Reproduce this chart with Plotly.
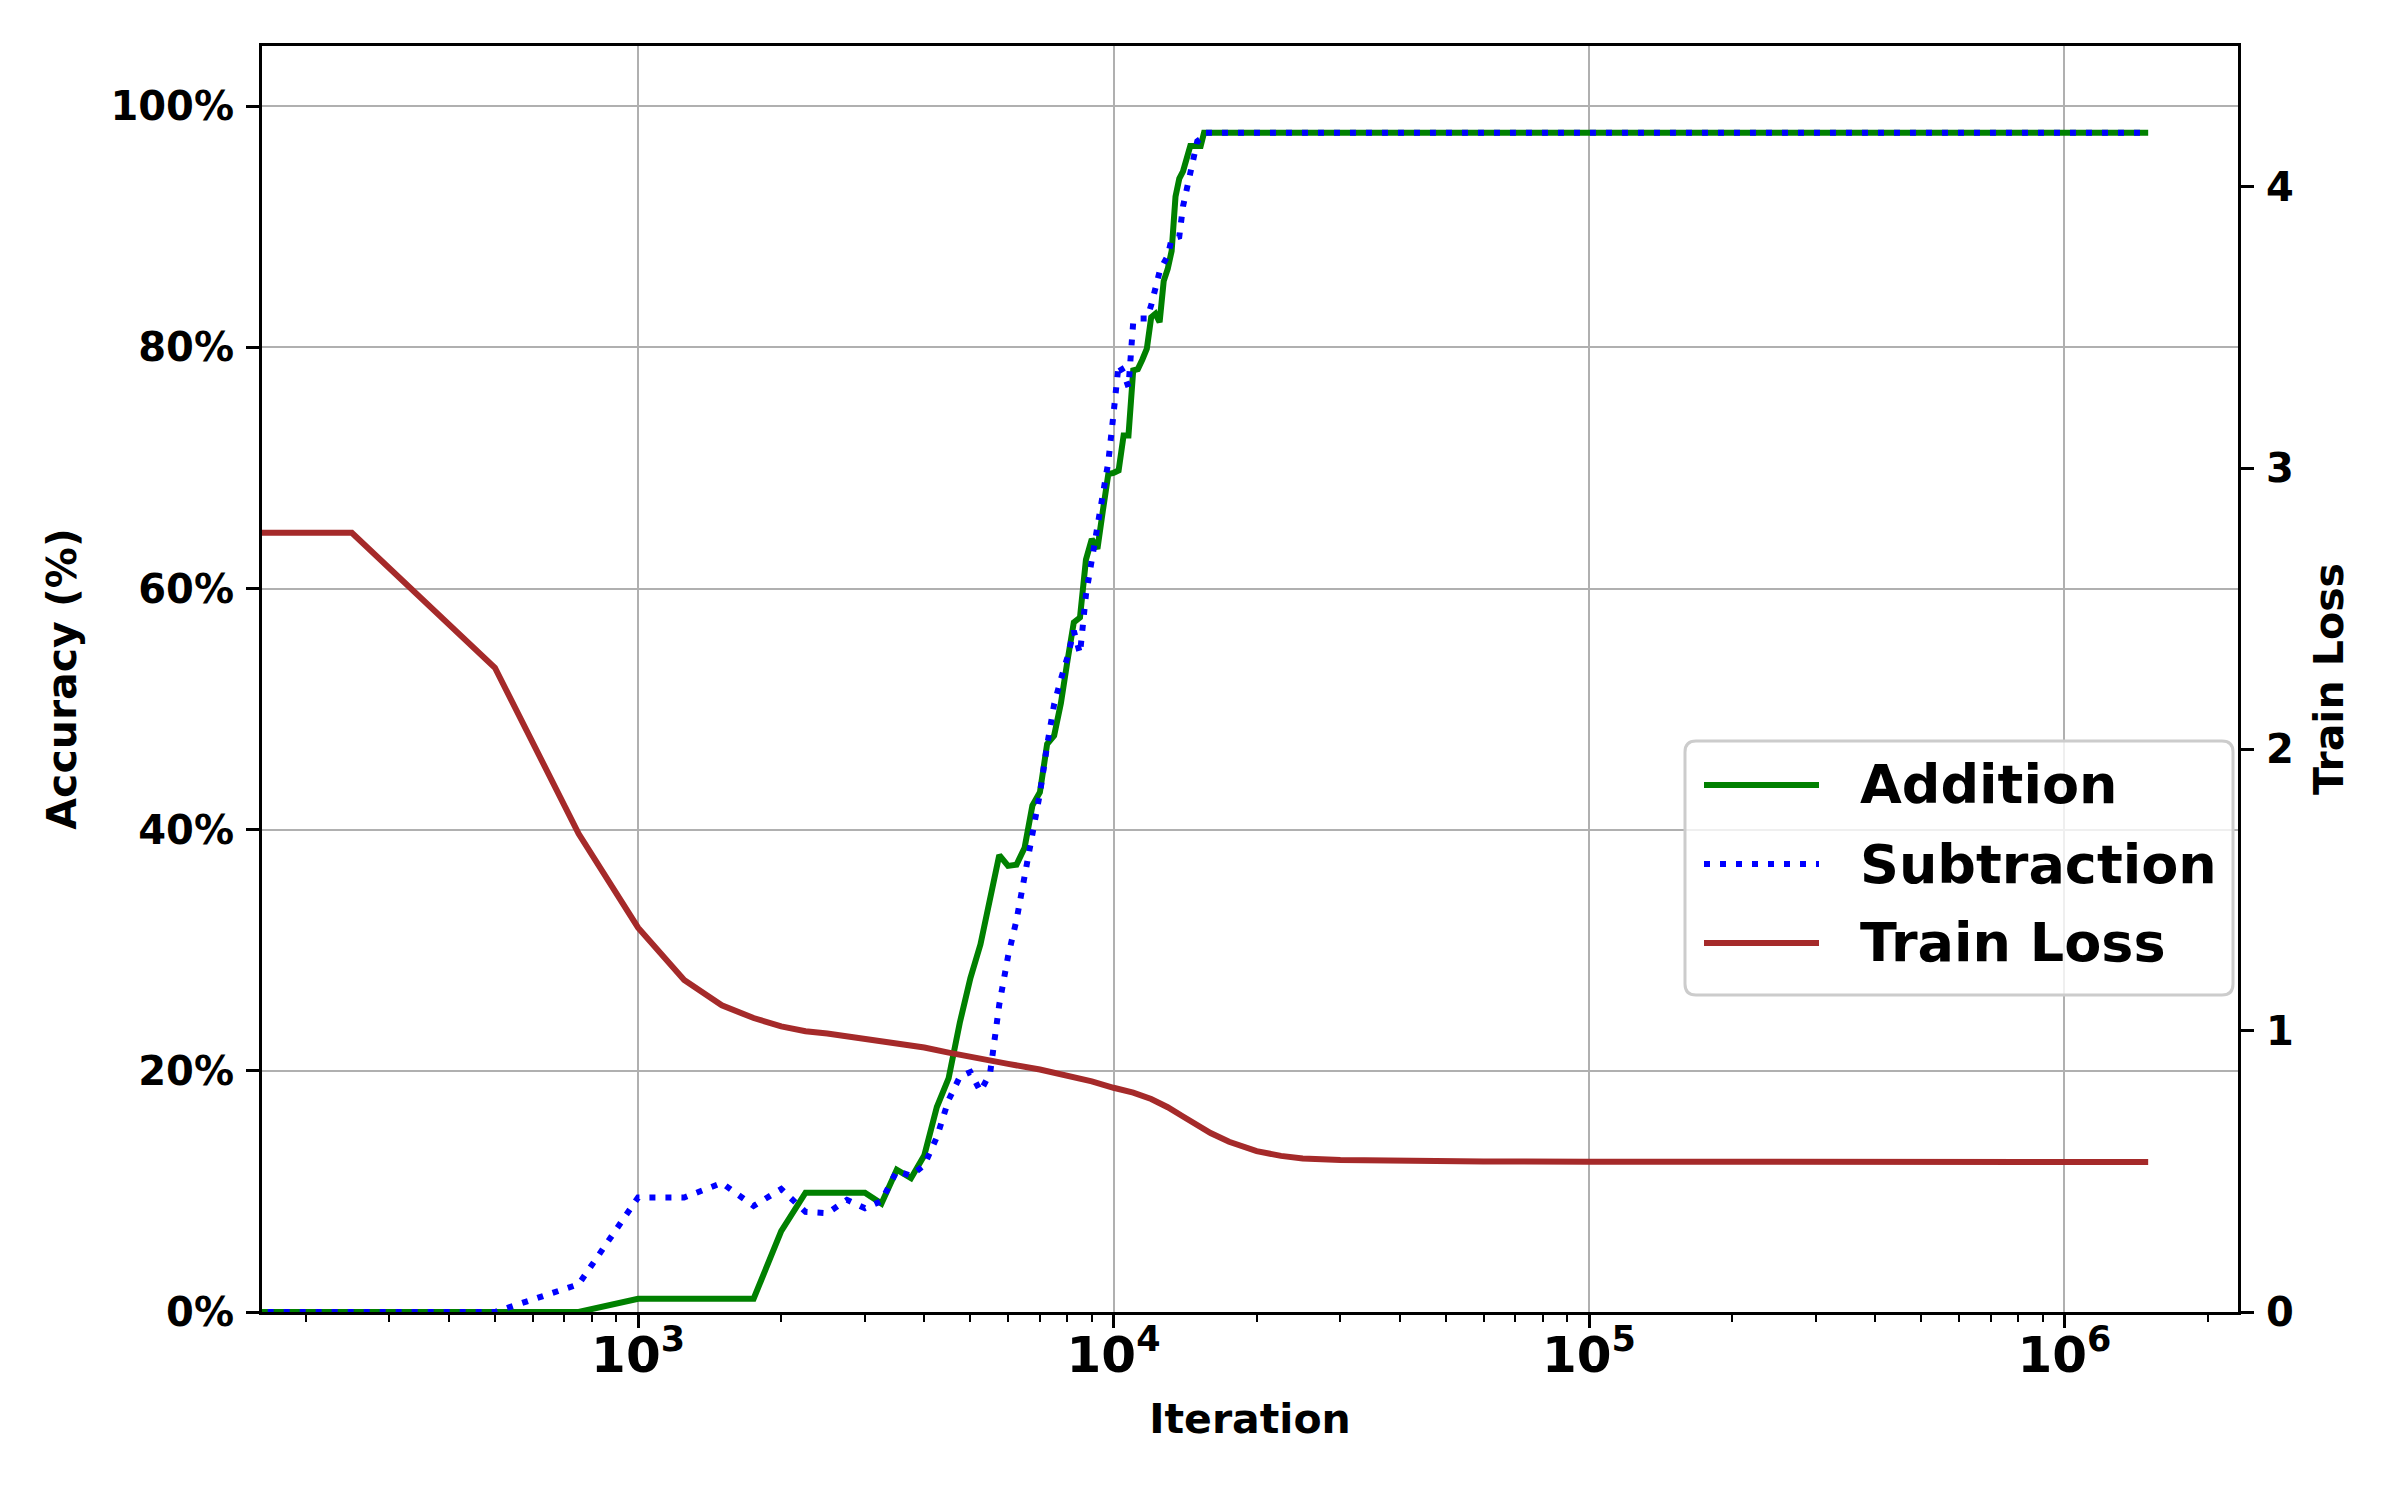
import numpy as np
import plotly.graph_objects as go

# ---------------- data ----------------
acc_iters = [0, 250, 500, 750, 1000, 1250, 1500, 1750, 2000, 2250,
             2500, 2750, 3000, 3250, 3500, 3750, 4000, 4250, 4500, 4750,
             5000, 5250, 5500, 5750, 6000, 6250, 6500, 6750, 7000, 7250,
             7500, 7750, 8000, 8250, 8500, 8750, 9000, 9250, 9500, 9750,
             10000, 10250, 10500, 10750, 11000, 11250, 11500, 11750, 12000, 12250,
             12500, 12750, 13000, 13250, 13500, 13750, 14000, 14250, 14500, 14750,
             15000, 15250, 15500, 15750, 16000,
             20000, 50000, 100000, 200000, 500000, 1000000, 1500000]

addition_acc = [0, 0, 0, 0, 1.1, 1.1, 1.1, 1.1, 6.7, 9.9,
                9.9, 9.9, 9.9, 9.0, 11.8, 11.1, 13.0, 17.0, 19.4, 24.0,
                27.7, 30.5, 34.2, 37.9, 37.0, 37.1, 38.5, 42.0, 43.1, 47.1,
                47.8, 50.5, 54.0, 57.2, 57.6, 62.4, 64.1, 63.3, 66.5, 69.5,
                69.6, 69.8, 72.7, 72.7, 78.1, 78.2, 79.0, 79.9, 82.5, 82.8,
                82.1, 85.5, 86.5, 88.0, 92.5, 94.0, 94.6, 95.5, 96.7, 96.7,
                96.7, 96.7, 97.8, 97.8, 97.8,
                97.8, 97.8, 97.8, 97.8, 97.8, 97.8, 97.8]

subtraction_acc = [0, 0, 0, 2.3, 9.5, 9.5, 10.7, 8.8, 10.2, 8.3,
                   8.2, 9.3, 8.6, 9.2, 11.7, 11.3, 12.2, 14.5, 17.6, 19.5,
                   19.9, 18.3, 19.8, 25.5, 29.5, 32.5, 36.0, 39.8, 43.0, 47.0,
                   50.4, 52.5, 54.3, 56.5, 54.6, 59.5, 62.5, 65.0, 67.5, 70.5,
                   74.5, 78.6, 77.9, 76.7, 82.1, 82.4, 82.4, 82.4, 83.5, 85.0,
                   86.3, 87.0, 87.6, 89.0, 89.1, 89.2, 91.7, 93.0, 94.3, 95.7,
                   97.1, 97.3, 97.8, 97.8, 97.8,
                   97.8, 97.8, 97.8, 97.8, 97.8, 97.8, 97.8]

loss_iters = [0, 250, 500, 750, 1000, 1250, 1500, 1750, 2000, 2250,
              2500, 3000, 3500, 4000, 4500, 5000, 5500, 6000, 7000, 8000,
              9000, 10000, 11000, 12000, 13000, 14000, 15000, 16000, 17500, 20000,
              22500, 25000, 30000, 40000, 60000, 100000, 200000, 500000, 1000000, 1500000]

train_loss = [2.77, 2.77, 2.29, 1.70, 1.366, 1.18, 1.09, 1.045, 1.015, 0.998,
              0.99, 0.972, 0.957, 0.94, 0.922, 0.906, 0.893, 0.882, 0.862, 0.84,
              0.82, 0.797, 0.78, 0.757, 0.728, 0.695, 0.663, 0.636, 0.605, 0.572,
              0.555, 0.546, 0.540, 0.536, 0.535, 0.534, 0.533, 0.533, 0.533, 0.533]

acc_ticks = [0, 20, 40, 60, 80, 100]
acc_tick_labels = ["0%", "20%", "40%", "60%", "80%", "100%"]
loss_ticks = [0, 1, 2, 3, 4]

series_names = ["Addition", "Subtraction", "Train Loss"]

# ---------------- styling ----------------
FONT = "DejaVu Sans"
GREEN, BLUE, BROWN = "green", "blue", "brown"
LW = 6
DOT = "6px,10px"
GRID = "#b0b0b0"

W, H = 2400, 1500
L, R, T, B = 262, 162, 46, 188
PW, PH = W - L - R, H - T - B


def px_x(px):
    return (px - L) / PW


def px_y(py):
    return (H - B - py) / PH


# log axis: step 0 cannot be shown, clip it like matplotlib does
x_acc = np.clip(np.array(acc_iters, dtype=float), 1, None)
x_loss = np.clip(np.array(loss_iters, dtype=float), 1, None)

pos = np.array([v for v in acc_iters + loss_iters if v > 0], dtype=float)
lo, hi = np.log10(pos.min()), np.log10(pos.max())
pad = 0.05 * (hi - lo)
x_range = [lo - pad, hi + pad]

fig = go.Figure()
fig.add_trace(go.Scatter(x=x_acc, y=addition_acc, mode="lines", name=series_names[0],
                         line=dict(color=GREEN, width=LW), showlegend=False))
fig.add_trace(go.Scatter(x=x_acc, y=subtraction_acc, mode="lines", name=series_names[1],
                         line=dict(color=BLUE, width=LW, dash=DOT), showlegend=False))
fig.add_trace(go.Scatter(x=x_loss, y=train_loss, mode="lines", name=series_names[2],
                         yaxis="y2", line=dict(color=BROWN, width=LW), showlegend=False))

tickfont = dict(family=FONT, size=40, color="black", weight="bold")
titlefont = dict(family=FONT, size=41, color="black", weight="bold")

fig.update_layout(
    template="none",
    width=W, height=H,
    margin=dict(l=L, r=R, t=T, b=B, autoexpand=False),
    paper_bgcolor="white", plot_bgcolor="white",
    showlegend=False,
    xaxis=dict(
        type="log", range=x_range, dtick=1, exponentformat="power",
        showgrid=True, gridcolor=GRID, gridwidth=2.2, zeroline=False,
        showline=True, linecolor="black", linewidth=3, mirror=True,
        ticks="outside", ticklen=13, tickwidth=3, tickcolor="black",
        minor=dict(ticks="outside", ticklen=7, tickwidth=2, tickcolor="black",
                   dtick="D1", showgrid=False),
        tickfont=tickfont, ticklabelstandoff=-14,
        title=dict(text="Iteration", font=titlefont, standoff=22),
        automargin=False,
    ),
    yaxis=dict(
        range=[0, 105], tickvals=acc_ticks, ticktext=acc_tick_labels,
        showgrid=True, gridcolor=GRID, gridwidth=2.2, zeroline=False,
        showline=True, linecolor="black", linewidth=3, mirror=True,
        ticks="outside", ticklen=13, tickwidth=3, tickcolor="black",
        tickfont=tickfont, ticklabelstandoff=4,
        title=dict(text="Accuracy (%)", font=titlefont, standoff=22),
        automargin=False,
    ),
    yaxis2=dict(
        overlaying="y", side="right", range=[0, 4.5], tickvals=loss_ticks,
        showgrid=False, zeroline=False,
        showline=True, linecolor="black", linewidth=3,
        ticks="outside", ticklen=13, tickwidth=3, tickcolor="black",
        tickfont=tickfont, ticklabelstandoff=4,
        title=dict(text="Train Loss", font=titlefont, standoff=22),
        automargin=False,
    ),
)

# ---------------- legend (drawn as in the matplotlib original) ----------------
bx0, by0, bx1, by1, rad = 1685, 741, 2233, 995, 11


def rrect_path(x0, y0, x1, y1, r):
    pts = [("M", x0 + r, y0), ("L", x1 - r, y0), ("Q", x1, y0, x1, y0 + r),
           ("L", x1, y1 - r), ("Q", x1, y1, x1 - r, y1), ("L", x0 + r, y1),
           ("Q", x0, y1, x0, y1 - r), ("L", x0, y0 + r), ("Q", x0, y0, x0 + r, y0)]
    s = ""
    for p in pts:
        cmd, coords = p[0], p[1:]
        pairs = [f"{px_x(coords[i]):.5f},{px_y(coords[i + 1]):.5f}" for i in range(0, len(coords), 2)]
        s += cmd + " ".join(pairs) + " "
    return s + "Z"


shapes = [dict(type="path", xref="paper", yref="paper", path=rrect_path(bx0, by0, bx1, by1, rad),
               fillcolor="rgba(255,255,255,0.8)", line=dict(color="#cccccc", width=3), layer="above")]
annotations = []
row_y = [785, 864, 943]
styles = [dict(color=GREEN, width=LW), dict(color=BLUE, width=LW, dash=DOT), dict(color=BROWN, width=LW)]
for name, yy, st in zip(series_names, row_y, styles):
    shapes.append(dict(type="line", xref="paper", yref="paper",
                       x0=px_x(1704), x1=px_x(1819), y0=px_y(yy), y1=px_y(yy),
                       line=st, layer="above"))
    annotations.append(dict(xref="paper", yref="paper", x=px_x(1858), y=px_y(yy),
                            xanchor="left", yanchor="middle", showarrow=False, text=name,
                            font=dict(family=FONT, size=54, color="black", weight="bold")))

fig.update_layout(shapes=shapes, annotations=annotations)

fig.write_html("out.html",
               config={"displayModeBar": False},
               post_script="document.body.style.margin='0';document.body.style.padding='0';")
